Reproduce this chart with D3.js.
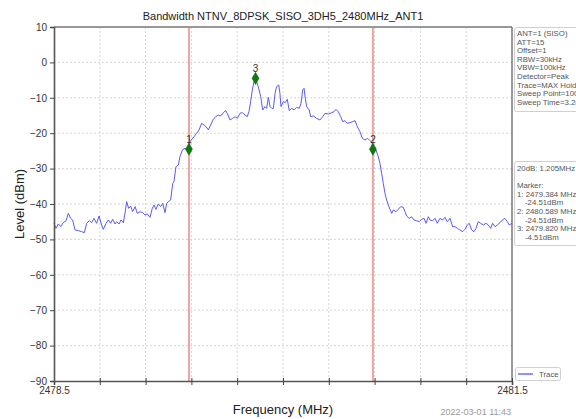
<!DOCTYPE html>
<html>
<head>
<meta charset="utf-8">
<script src="https://cdn.jsdelivr.net/npm/d3@7"></script>
<style>
  html, body { margin: 0; padding: 0; background: #fff; }
  svg { display: block; font-family: "Liberation Sans", Arial, sans-serif; }
</style>
</head>
<body>
<svg id="chart" width="576" height="419"></svg>
<script>
// Spectrum trace (MAX Hold), frequency in MHz and level in dBm
const freqMHz = [
  2478.500, 2478.513, 2478.528, 2478.544, 2478.561, 2478.579, 2478.594, 2478.609, 2478.622, 2478.638,
  2478.659, 2478.681, 2478.699, 2478.714, 2478.731, 2478.747, 2478.762, 2478.779, 2478.795, 2478.812,
  2478.823, 2478.841, 2478.856, 2478.871, 2478.884, 2478.900, 2478.910, 2478.926, 2478.939, 2478.954,
  2478.965, 2478.976, 2478.989, 2479.002, 2479.015, 2479.031, 2479.046, 2479.063, 2479.081, 2479.096,
  2479.111, 2479.129, 2479.144, 2479.155, 2479.168, 2479.183, 2479.199, 2479.212, 2479.227, 2479.238,
  2479.249, 2479.264, 2479.278, 2479.286, 2479.299, 2479.315, 2479.325, 2479.341, 2479.358, 2479.369,
  2479.384, 2479.391, 2479.402, 2479.417, 2479.434, 2479.450, 2479.467, 2479.483, 2479.496, 2479.511,
  2479.526, 2479.544, 2479.559, 2479.576, 2479.587, 2479.598, 2479.609, 2479.624, 2479.635, 2479.653,
  2479.670, 2479.686, 2479.701, 2479.718, 2479.734, 2479.751, 2479.766, 2479.777, 2479.788, 2479.799,
  2479.810, 2479.820, 2479.838, 2479.854, 2479.867, 2479.882, 2479.893, 2479.904, 2479.915, 2479.926,
  2479.937, 2479.948, 2479.958, 2479.972, 2479.980, 2479.987, 2480.002, 2480.015, 2480.028, 2480.041,
  2480.057, 2480.072, 2480.089, 2480.107, 2480.118, 2480.129, 2480.138, 2480.146, 2480.155, 2480.172,
  2480.181, 2480.199, 2480.220, 2480.242, 2480.260, 2480.275, 2480.297, 2480.319, 2480.334, 2480.347,
  2480.362, 2480.378, 2480.391, 2480.406, 2480.421, 2480.439, 2480.456, 2480.472, 2480.487, 2480.504,
  2480.520, 2480.537, 2480.555, 2480.570, 2480.583, 2480.589, 2480.609, 2480.624, 2480.635, 2480.646,
  2480.657, 2480.668, 2480.679, 2480.690, 2480.701, 2480.712, 2480.723, 2480.740, 2480.755, 2480.771,
  2480.788, 2480.799, 2480.810, 2480.827, 2480.843, 2480.858, 2480.875, 2480.893, 2480.908, 2480.924,
  2480.937, 2480.952, 2480.963, 2480.980, 2480.996, 2481.011, 2481.028, 2481.046, 2481.061, 2481.076,
  2481.094, 2481.111, 2481.127, 2481.142, 2481.159, 2481.177, 2481.192, 2481.207, 2481.220, 2481.236,
  2481.251, 2481.264, 2481.279, 2481.295, 2481.312, 2481.330, 2481.345, 2481.360, 2481.373, 2481.389,
  2481.404, 2481.421, 2481.437, 2481.454, 2481.469, 2481.482, 2481.500
];
const levelDbm = [
  -45.46, -46.87, -45.65, -46.40, -45.27, -44.71, -42.64, -44.05, -44.52, -47.34,
  -47.53, -47.81, -48.10, -45.46, -44.71, -45.27, -44.05, -45.46, -43.39, -45.93,
  -47.16, -45.46, -44.52, -45.46, -44.33, -45.65, -44.99, -45.65, -44.52, -45.27,
  -42.64, -39.34, -41.22, -40.56, -42.17, -40.75, -42.64, -42.17, -42.45, -43.11,
  -42.82, -43.77, -41.22, -40.28, -41.51, -40.00, -40.75, -39.81, -42.45, -39.81,
  -39.34, -38.87, -34.16, -33.69, -29.45, -28.98, -26.63, -24.74, -24.27, -24.74,
  -24.51, -22.39, -21.73, -20.98, -20.04, -19.09, -17.21, -17.68, -18.15, -19.09,
  -17.68, -16.08, -15.33, -14.86, -15.14, -14.86, -14.20, -13.63, -14.39, -16.27,
  -15.80, -15.33, -15.80, -14.39, -14.20, -14.86, -15.33, -13.92, -11.09, -7.80,
  -5.44, -4.51, -6.85, -9.68, -13.45, -12.50, -12.97, -9.87, -12.50, -12.97,
  -12.97, -8.74, -6.85, -6.38, -8.74, -12.50, -11.09, -11.37, -10.43, -13.63,
  -12.97, -13.45, -12.69, -12.97, -11.56, -7.80, -7.33, -10.15, -12.50, -13.45,
  -15.33, -15.14, -15.80, -16.27, -15.33, -14.39, -14.58, -14.20, -13.92, -13.26,
  -13.92, -15.33, -16.74, -16.46, -17.21, -17.02, -16.74, -16.46, -18.15, -19.57,
  -21.45, -21.92, -21.45, -22.11, -22.67, -24.51, -24.74, -26.63, -28.51, -31.34,
  -34.16, -36.99, -38.87, -40.28, -41.51, -42.64, -41.69, -42.17, -41.51, -40.75,
  -40.94, -42.17, -43.39, -44.05, -43.58, -44.52, -44.71, -44.99, -44.33, -44.05,
  -45.46, -43.58, -44.52, -44.71, -44.05, -45.46, -44.05, -44.52, -43.77, -44.99,
  -44.05, -46.40, -46.40, -46.87, -47.34, -47.81, -47.16, -45.93, -45.46, -47.34,
  -47.81, -46.87, -44.99, -45.46, -45.93, -45.46, -45.93, -46.87, -45.46, -46.40,
  -45.93, -45.27, -44.52, -44.05, -44.99, -45.93, -45.46
];

// Markers (20 dB bandwidth edges and peak)
const markerIds = ["1", "2", "3"];
const markerFreq = [2479.384, 2480.589, 2479.820];
const markerLevel = [-24.51, -24.51, -4.51];
const bandEdgeFreq = [2479.384, 2480.589];

// Axis setup
const xDomain = [2478.5, 2481.5];
const yDomain = [-90, 10];
const xTickValues = d3.range(0, 11).map(i => 2478.5 + i * 0.3);
const xTickLabels = ["2478.5", "2481.5"];
const yTickValues = d3.range(-90, 11, 10);

// Text panels
const titleText = "Bandwidth NTNV_8DPSK_SISO_3DH5_2480MHz_ANT1";
const settingLines = ["ANT=1 (SISO)", "ATT=15", "Offset=1", "RBW=30kHz", "VBW=100kHz",
  "Detector=Peak", "Trace=MAX Hold", "Sweep Point=1001", "Sweep Time=3.2ms"];
const resultLines = [
  { t: "20dB: 1.205MHz", indent: 0 },
  { t: "", indent: 0 },
  { t: "Marker:", indent: 0 },
  { t: "1: 2479.384 MHz", indent: 0 },
  { t: "-24.51dBm", indent: 8 },
  { t: "2: 2480.589 MHz", indent: 0 },
  { t: "-24.51dBm", indent: 8 },
  { t: "3: 2479.820 MHz", indent: 0 },
  { t: "-4.51dBm", indent: 8 }
];
const legendLabel = "Trace";
const timestamp = "2022-03-01 11:43";

const svg = d3.select("#chart");
const plot = { left: 54, top: 27, right: 512, bottom: 381 };

const x = d3.scaleLinear().domain(xDomain).range([plot.left, plot.right]);
const y = d3.scaleLinear().domain(yDomain).range([plot.bottom, plot.top]);

// Title
svg.append("text")
  .attr("x", (plot.left + plot.right) / 2).attr("y", 20)
  .attr("text-anchor", "middle")
  .attr("font-size", 11).attr("fill", "#222")
  .text(titleText);

// Grid
const grid = svg.append("g").attr("stroke", "#cccccc").attr("stroke-width", 0.8).attr("stroke-dasharray", "2,2");
grid.selectAll("line.v").data(xTickValues.slice(1, -1)).join("line")
  .attr("x1", d => x(d)).attr("x2", d => x(d))
  .attr("y1", plot.top).attr("y2", plot.bottom);
grid.selectAll("line.h").data(yTickValues.slice(1, -1)).join("line")
  .attr("x1", plot.left).attr("x2", plot.right)
  .attr("y1", d => y(d)).attr("y2", d => y(d));

// Frame (top and right)
svg.append("line").attr("x1", plot.left).attr("x2", plot.right).attr("y1", plot.top).attr("y2", plot.top)
  .attr("stroke", "#777").attr("stroke-width", 1.5);
svg.append("line").attr("x1", plot.right).attr("x2", plot.right).attr("y1", plot.top).attr("y2", plot.bottom)
  .attr("stroke", "#777").attr("stroke-width", 1.5);

// Band edge lines
svg.append("g").selectAll("line").data(bandEdgeFreq).join("line")
  .attr("x1", d => x(d)).attr("x2", d => x(d))
  .attr("y1", plot.top).attr("y2", plot.bottom)
  .attr("stroke", "#ee7b7b").attr("stroke-opacity", 0.7).attr("stroke-width", 2);

// Trace
const traceData = freqMHz.map((f, i) => [f, levelDbm[i]]);
svg.append("path")
  .datum(traceData)
  .attr("fill", "none")
  .attr("stroke", "#5a5af5")
  .attr("stroke-width", 1)
  .attr("d", d3.line().x(d => x(d[0])).y(d => y(d[1])));

// Axes
const xAxis = d3.axisBottom(x).tickValues(xTickValues).tickSize(4)
  .tickFormat(d => {
    const s = d3.format(".1f")(d);
    return xTickLabels.includes(s) ? s : "";
  });
const gx = svg.append("g").attr("transform", `translate(0,${plot.bottom})`).call(xAxis);
gx.select(".domain").attr("stroke", "#555").attr("stroke-width", 1.6);
gx.selectAll(".tick line").attr("stroke", "#444").attr("y1", -3);
gx.selectAll(".tick text").attr("font-size", 10).attr("fill", "#333").attr("dy", "0.55em")
  .attr("font-family", "Liberation Sans, Arial, sans-serif");

const yAxis = d3.axisLeft(y).tickValues(yTickValues).tickSize(4).tickFormat(d3.format("d"));
const gy = svg.append("g").attr("transform", `translate(${plot.left},0)`).call(yAxis);
gy.select(".domain").attr("stroke", "#555").attr("stroke-width", 1.6);
gy.selectAll(".tick line").attr("stroke", "#444");
gy.selectAll(".tick text").attr("font-size", 10).attr("fill", "#333").attr("x", -7)
  .attr("font-family", "Liberation Sans, Arial, sans-serif")
  .text(d => d < 0 ? "\u2212" + Math.abs(d) : d);

// Axis titles
svg.append("text")
  .attr("x", (plot.left + plot.right) / 2).attr("y", 414)
  .attr("text-anchor", "middle").attr("font-size", 13).attr("fill", "#222")
  .text("Frequency (MHz)");
svg.append("text")
  .attr("transform", `translate(24,${(plot.top + plot.bottom) / 2}) rotate(-90)`)
  .attr("text-anchor", "middle").attr("font-size", 13).attr("fill", "#222")
  .text("Level (dBm)");

// Markers
const mk = svg.append("g");
mk.selectAll("path").data(markerIds).join("path")
  .attr("transform", (d, i) => `translate(${x(markerFreq[i])},${y(markerLevel[i])})`)
  .attr("d", d3.symbol().type(d3.symbolDiamond).size(42))
  .attr("fill", "#0a7a0a").attr("stroke", "#0a5a0a").attr("stroke-width", 0.5);
mk.selectAll("text").data(markerIds).join("text")
  .attr("x", (d, i) => x(markerFreq[i]))
  .attr("y", (d, i) => y(markerLevel[i]) - 6)
  .attr("text-anchor", "middle").attr("font-size", 10).attr("fill", "#333")
  .text(d => d);

// Settings panel
const p1 = svg.append("g");
p1.append("rect").attr("x", 514.5).attr("y", 27.5).attr("width", 70).attr("height", 84).attr("rx", 2)
  .attr("fill", "#fff").attr("stroke", "#d0d0d0");
p1.selectAll("text").data(settingLines).join("text")
  .attr("x", 517).attr("y", (d, i) => 36 + i * 8.6)
  .attr("font-size", 7.8).attr("fill", "#555").text(d => d);

// Result panel
const p2 = svg.append("g");
p2.append("rect").attr("x", 514.5).attr("y", 161.5).attr("width", 70).attr("height", 84).attr("rx", 2)
  .attr("fill", "#fff").attr("stroke", "#d0d0d0");
p2.selectAll("text").data(resultLines).join("text")
  .attr("x", d => 517 + d.indent).attr("y", (d, i) => 171 + i * 8.6)
  .attr("font-size", 7.8).attr("fill", "#555").text(d => d.t);

// Legend
const lg = svg.append("g");
lg.append("rect").attr("x", 515.5).attr("y", 367.5).attr("width", 45).attr("height", 13).attr("rx", 2)
  .attr("fill", "#fff").attr("stroke", "#d0d0d0");
lg.append("line").attr("x1", 518).attr("x2", 533).attr("y1", 374).attr("y2", 374)
  .attr("stroke", "#4a4af5").attr("stroke-width", 1.2);
lg.append("text").attr("x", 539).attr("y", 377).attr("font-size", 7.8).attr("fill", "#555").text(legendLabel);

// Timestamp
svg.append("text").attr("x", 511).attr("y", 415).attr("text-anchor", "end")
  .attr("font-size", 9).attr("fill", "#999").text(timestamp);
</script>
</body>
</html>
